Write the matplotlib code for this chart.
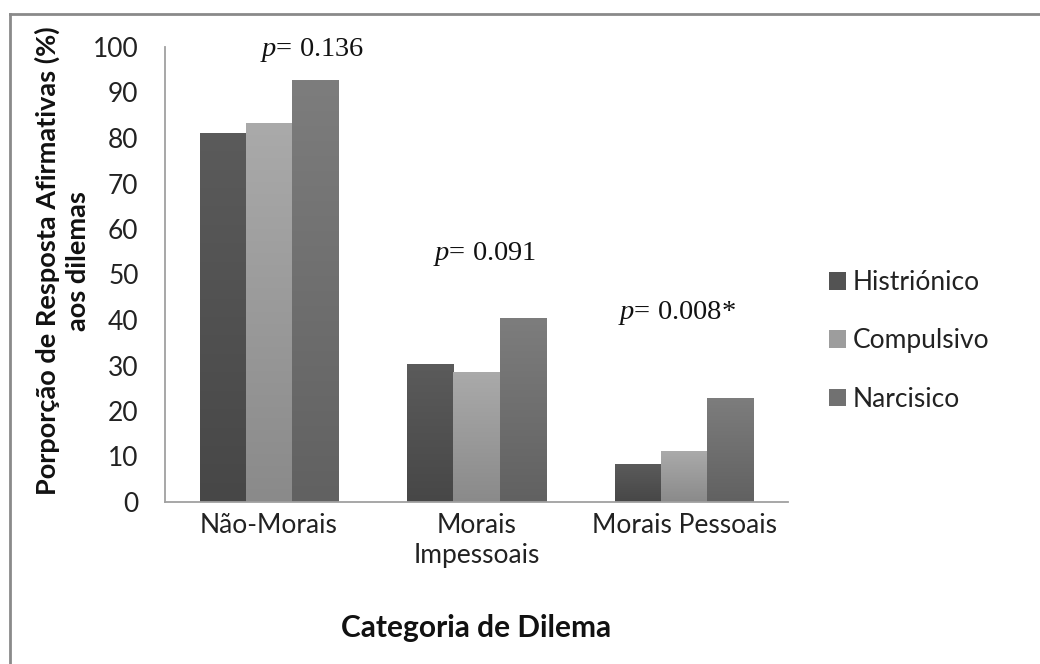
import matplotlib
matplotlib.use("Agg")
import matplotlib.pyplot as plt
import numpy as np
from matplotlib.lines import Line2D
from matplotlib.colors import LinearSegmentedColormap

plt.rcParams["mathtext.fontset"] = "custom"
plt.rcParams["mathtext.it"] = "Liberation Serif:italic"
plt.rcParams["mathtext.rm"] = "Liberation Serif"

categories = ["Não-Morais", "Morais\nImpessoais", "Morais Pessoais"]
series_names = ["Histriónico", "Compulsivo", "Narcisico"]
histrionico = [81.2, 30.3, 8.4]
compulsivo = [83.3, 28.6, 11.2]
narcisico = [92.7, 40.4, 22.9]
p_labels = ["0.136", "0.091", "0.008*"]
yticks = list(range(0, 101, 10))

colors = ["#535353", "#9d9d9d", "#717171"]
grad_top = ["#5b5b5b", "#aaaaaa", "#7d7d7d"]
grad_bot = ["#474747", "#8a8a8a", "#616161"]

fig = plt.figure(figsize=(10.4, 6.64), dpi=100)
ax = fig.add_axes([165/1040, 1 - 502/664, (788-165)/1040, (502-47)/664])

x = np.arange(len(categories))
w = 0.222
grad = np.linspace(0, 1, 256).reshape(-1, 1)
for i, (vals, c) in enumerate(zip([histrionico, compulsivo, narcisico], colors)):
    bars = ax.bar(x + (i - 1) * w, vals, width=w, color=c, edgecolor="none",
                  label=series_names[i], zorder=2)
    cmap = LinearSegmentedColormap.from_list("g%d" % i, [grad_bot[i], grad_top[i]])
    for b in bars:
        x0, y0 = b.get_x(), b.get_y()
        im = ax.imshow(grad, extent=(x0, x0 + b.get_width(), y0, y0 + b.get_height()),
                       origin="lower", cmap=cmap, aspect="auto", zorder=2.5,
                       interpolation="bilinear")
        im.set_clip_path(b)

ax.set_xlim(-0.5, 2.5)
ax.set_ylim(0, 100)
ax.set_yticks(yticks)
ax.set_xticks(x)
ax.set_xticklabels(categories, fontfamily="Lato", fontsize=19, color="#222222", linespacing=1.25)
for lab in ax.get_yticklabels():
    lab.set_fontfamily("Lato"); lab.set_fontsize(19); lab.set_color("#222222")
ax.tick_params(axis="both", length=0)
ax.tick_params(axis="y", pad=19)
ax.tick_params(axis="x", pad=8)
for s in ["top", "right"]:
    ax.spines[s].set_visible(False)
for s in ["left", "bottom"]:
    ax.spines[s].set_color("#a0a0a0")
    ax.spines[s].set_linewidth(1.3)
    ax.spines[s].set_zorder(3)

ax.set_ylabel("Porporção de Resposta Afirmativas (%)\naos dilemas", fontfamily="Lato",
              fontsize=19.5, fontweight="bold", color="#111111", linespacing=1.3, labelpad=2)
ax.yaxis.label.set_y(0.53)
ax.set_xlabel("Categoria de Dilema", fontfamily="Lato", fontsize=21.5, fontweight="bold",
              color="#111111", labelpad=33)

p_pos = [(0.207, 99.3), (1.04, 54.5), (1.966, 41.5)]
for (px, py), lab in zip(p_pos, p_labels):
    ax.text(px, py, r"$\mathit{p}$" + "= " + lab, ha="center", va="center",
            fontfamily="Liberation Serif", fontsize=20.5, color="#111111", clip_on=False)

leg = ax.legend(loc="center left", bbox_to_anchor=(1.027, 0.354), frameon=False,
                prop={"family": "Lato", "size": 19}, handlelength=0.65, handleheight=0.65,
                handletextpad=0.25, labelspacing=1.26)
for t in leg.get_texts():
    t.set_color("#222222")

fig.add_artist(Line2D([10/1040, 10/1040], [0, 1 - 14/664], transform=fig.transFigure, color="#8a8a8a", lw=2))
fig.add_artist(Line2D([10/1040, 1], [1 - 14/664, 1 - 14/664], transform=fig.transFigure, color="#8a8a8a", lw=2))

fig.savefig("out.png", dpi=100)
